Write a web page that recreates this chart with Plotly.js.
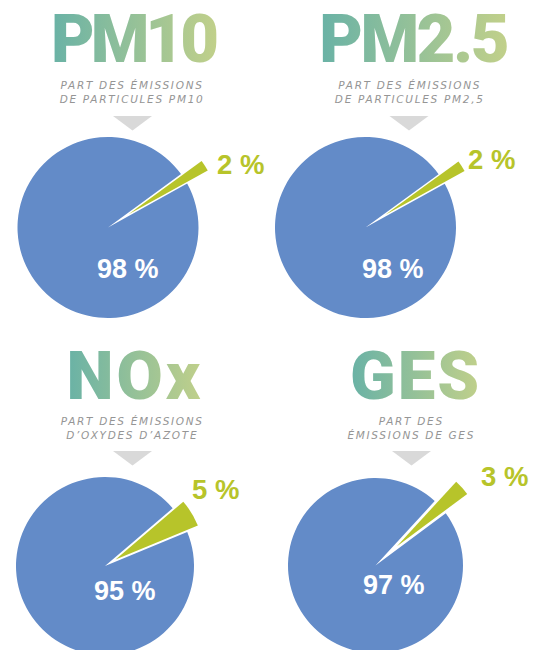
<!DOCTYPE html>
<html>
<head>
<meta charset="utf-8">
<script src="https://cdn.plot.ly/plotly-3.0.1.min.js"></script>
<style>
  html, body { margin: 0; padding: 0; width: 540px; height: 650px; overflow: hidden; background: #ffffff; }
  #chart { position: absolute; left: -30px; top: 0; width: 600px; height: 700px; }
</style>
</head>
<body>
<div id="chart"></div>
<script>
// ---- data ----
const pollutants = ['PM10', 'PM2.5', 'NOx', 'GES'];
const subtitleLine1 = ['PART DES ÉMISSIONS', 'PART DES ÉMISSIONS', 'PART DES ÉMISSIONS', 'PART DES'];
const subtitleLine2 = ['DE PARTICULES PM10', 'DE PARTICULES PM2,5', 'D’OXYDES D’AZOTE', 'ÉMISSIONS DE GES'];
const shareOther = [2, 2, 5, 3];      // small pulled slice (green)
const shareMain = [98, 98, 95, 97];   // large slice (blue)

// ---- layout constants ----
const W = 600, H = 700, OFFX = 30;
const BLUE = '#638bc8', GREEN = '#b7c42a', GREY = '#d9d9d9', SUBGREY = '#959595';
const panels = [
  {cx: 108,   cy: 227.5, r: 90.5, pull: 0.27, ang: 57.4, tx: 133,   ty: 36.5, ls: -4,  sx: 132,   sy: 92.5,  trx: 132.5, try0: 116, sl: [240, 165],   ml: [128, 269.5]},
  {cx: 365.5, cy: 227.5, r: 90.5, pull: 0.26, ang: 57.5, tx: 412.5, ty: 36.5, ls: -2.5, sx: 409.5, sy: 92.5,  trx: 409,   try0: 116, sl: [491.5, 161], ml: [392.5, 270]},
  {cx: 105,   cy: 566,   r: 89,   pull: 0.14, ang: 58.5, tx: 134.5, ty: 373, ls: 3,   sx: 132,   sy: 427.5, trx: 132.5, try0: 451, sl: [216, 490.5], ml: [125, 591.5]},
  {cx: 375.5, cy: 565.5, r: 87.5, pull: 0.33, ang: 48,   tx: 415.5, ty: 373, ls: 2,   sx: 411.5, sy: 427.5, trx: 411.5, try0: 451, sl: [504.5, 477.5], ml: [394, 585.5]}
];

const px = x => (x + OFFX) / W;
const py = y => 1 - y / H;

const traces = [];
const annotations = [];
const shapes = [];

// titles first (indices 0..3), subtitles next (4..7)
pollutants.forEach((name, i) => {
  const p = panels[i];
  annotations.push({
    xref: 'paper', yref: 'paper', x: px(p.tx), y: py(p.ty + 3),
    xanchor: 'center', yanchor: 'middle', showarrow: false,
    text: name,
    font: {family: 'Roboto, sans-serif', size: 67, weight: 900, color: '#93bf9b'}
  });
});
pollutants.forEach((name, i) => {
  const p = panels[i];
  annotations.push({
    xref: 'paper', yref: 'paper', x: px(p.sx), y: py(p.sy),
    xanchor: 'center', yanchor: 'middle', showarrow: false,
    text: subtitleLine1[i] + '<br>' + subtitleLine2[i],
    font: {family: 'DejaVu Sans, sans-serif', size: 10.5, style: 'italic', color: SUBGREY}
  });
});

pollutants.forEach((name, i) => {
  const p = panels[i];
  const total = shareOther[i] + shareMain[i];
  const half = p.r * (1 + p.pull);
  const fx = p.cx + OFFX;
  traces.push({
    type: 'pie',
    values: [shareOther[i], shareMain[i]],
    labels: ['autres', name],
    sort: false,
    direction: 'clockwise',
    rotation: p.ang - (shareOther[i] / total) * 360 / 2,
    pull: [p.pull, 0],
    marker: {colors: [GREEN, BLUE], line: {width: 0}},
    textinfo: 'none',
    hoverinfo: 'skip',
    showlegend: false,
    domain: {x: [(fx - half) / W, (fx + half) / W], y: [1 - (p.cy + half) / H, 1 - (p.cy - half) / H]}
  });

  // value labels
  annotations.push({
    xref: 'paper', yref: 'paper', x: px(p.sl[0]), y: py(p.sl[1] - 1),
    xanchor: 'center', yanchor: 'middle', showarrow: false,
    text: shareOther[i] + ' %',
    font: {family: 'Liberation Sans, Arial, sans-serif', size: 27.5, weight: 700, color: GREEN}
  });
  annotations.push({
    xref: 'paper', yref: 'paper', x: px(p.ml[0]), y: py(p.ml[1] - 1),
    xanchor: 'center', yanchor: 'middle', showarrow: false,
    text: shareMain[i] + ' %',
    font: {family: 'Liberation Sans, Arial, sans-serif', size: 27, weight: 700, color: '#ffffff'}
  });

  // grey pointer triangle
  const tw = 19.5, th = 14.5;
  shapes.push({
    type: 'path', xref: 'paper', yref: 'paper',
    path: `M ${px(p.trx - tw)} ${py(p.try0)} L ${px(p.trx + tw)} ${py(p.try0)} L ${px(p.trx)} ${py(p.try0 + th)} Z`,
    fillcolor: GREY, line: {width: 0}
  });
});

const layout = {
  width: W, height: H,
  margin: {l: 0, r: 0, t: 0, b: 0},
  paper_bgcolor: '#ffffff',
  plot_bgcolor: '#ffffff',
  showlegend: false,
  annotations: annotations,
  shapes: shapes
};

Plotly.newPlot('chart', traces, layout, {staticPlot: true, displayModeBar: false}).then(gd => {
  // gradient fill for the big titles (text stays real text)
  const svgNS = 'http://www.w3.org/2000/svg';
  let defs = gd.querySelector('defs');
  const grad = document.createElementNS(svgNS, 'linearGradient');
  grad.setAttribute('id', 'titleGrad');
  grad.setAttribute('x1', '0'); grad.setAttribute('y1', '0');
  grad.setAttribute('x2', '1'); grad.setAttribute('y2', '0');
  [['0', '#69b2a6'], ['1', '#c1d08a']].forEach(([o, c]) => {
    const s = document.createElementNS(svgNS, 'stop');
    s.setAttribute('offset', o); s.setAttribute('stop-color', c);
    grad.appendChild(s);
  });
  defs.appendChild(grad);
  for (let k = 0; k < pollutants.length; k++) {
    const t = gd.querySelector(`.annotation[data-index="${k}"] text`);
    if (t) {
      t.style.fill = 'url(#titleGrad)';
      t.setAttribute('letter-spacing', String(panels[k].ls));
    }
    const s = gd.querySelector(`.annotation[data-index="${k + pollutants.length}"] text`);
    if (s) s.setAttribute('letter-spacing', '1.7');
  }
});
</script>
</body>
</html>
